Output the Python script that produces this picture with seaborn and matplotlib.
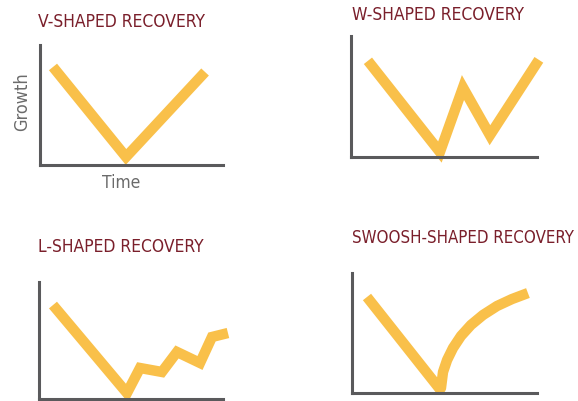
import pandas as pd
import seaborn as sns
import matplotlib.pyplot as plt

# Curve shapes (x = time, y = growth, both on a 0-100 scale)
v_time = [7.1, 47.0, 90.2]
v_growth = [81.7, 6.7, 77.5]

w_time = [9.1, 47.8, 60.2, 74.7, 101.0]
w_growth = [79.5, 4.1, 57.4, 18.0, 80.3]

l_time = [7.6, 47.8, 54.9, 66.8, 75.0, 87.5, 94.0, 102.7]
l_growth = [80.3, 5.1, 26.5, 23.1, 40.2, 30.8, 53.0, 56.4]

swoosh_time = [8.1, 47.6, 48.1, 49.2, 51.4, 54.6, 58.9, 64.3, 70.8, 78.4, 86.5, 95.1]
swoosh_growth = [80.0, 3.0, 4.2, 17.5, 27.5, 37.5, 47.5, 56.7, 65.0, 72.5, 78.3, 83.3]

titles = ["V-SHAPED RECOVERY", "W-SHAPED RECOVERY", "L-SHAPED RECOVERY", "SWOOSH-SHAPED RECOVERY"]

sns.set_style("white")
plt.rcParams['font.family'] = ['DejaVu Sans']
plt.rcParams['font.stretch'] = 'condensed'

W, H = 578, 401
fig = plt.figure(figsize=(W / 100, H / 100), dpi=100)

line_color = "#F9C04A"
axis_color = "#5a5a5c"
title_color = "#7A1F2B"


def px_axes(left, top, right, bottom):
    return fig.add_axes([left / W, 1 - bottom / H, (right - left) / W, (bottom - top) / H])


def draw_panel(box, xs, ys, title, title_xy, join="miter", tsize=12.5):
    ax = px_axes(*box)
    df = pd.DataFrame({"time": xs, "growth": ys})
    sns.lineplot(data=df, x="time", y="growth", ax=ax, sort=False, estimator=None,
                 color=line_color, linewidth=7.5, solid_joinstyle=join,
                 solid_capstyle="butt")
    for ln in ax.get_lines():
        ln.set_clip_on(False)
    ax.set_xlim(0, 100)
    ax.set_ylim(0, 100)
    ax.set_xticks([])
    ax.set_yticks([])
    ax.set_xlabel("")
    ax.set_ylabel("")
    ax.patch.set_alpha(0)
    sns.despine(ax=ax)
    for s in ["left", "bottom"]:
        ax.spines[s].set_color(axis_color)
        ax.spines[s].set_linewidth(2.2)
    fig.text(title_xy[0] / W, 1 - title_xy[1] / H, title, color=title_color,
             fontsize=tsize, fontstretch="condensed", ha="left", va="center")
    return ax


draw_panel((40, 45, 223, 165), v_time, v_growth, titles[0], (38, 22))
draw_panel((351, 36, 537, 157), w_time, w_growth, titles[1], (352, 15))
draw_panel((39, 282, 223, 399), l_time, l_growth, titles[2], (38, 247))
draw_panel((352, 273, 537, 393), swoosh_time, swoosh_growth, titles[3], (352, 238),
           join="round", tsize=12.1)

fig.text(22 / W, 1 - 102 / H, "Growth", color="#6b6b6b", fontsize=13,
         fontstretch="condensed", rotation=90, ha="center", va="center")
fig.text(121 / W, 1 - 183 / H, "Time", color="#6b6b6b", fontsize=12.5,
         fontstretch="condensed", ha="center", va="center")

fig.savefig("out.png", dpi=100)
